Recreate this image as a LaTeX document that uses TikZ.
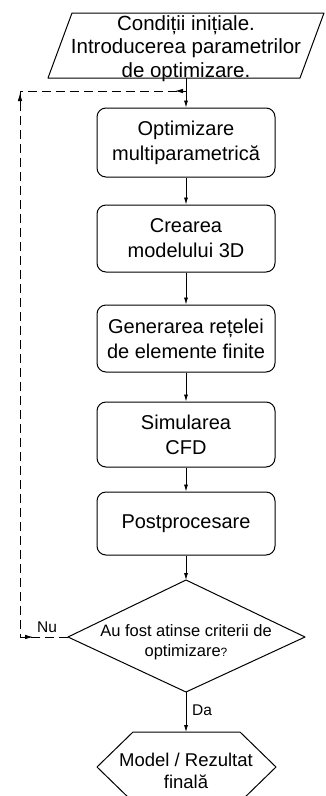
\documentclass[tikz,border=0pt]{standalone}
\usepackage{fontspec}
\setmainfont{Liberation Sans}
\usetikzlibrary{arrows.meta}
\tikzset{
  box/.style={draw, rounded corners=9pt, minimum width=178pt, inner sep=0pt, align=center, font=\fontsize{20}{25}\selectfont, line width=1pt},
  flow/.style={-{Latex[length=7pt,width=4pt]}, line width=0.8pt},
  back/.style={dash pattern=on 9pt off 5pt, line width=0.9pt},
  tipmark/.style={-{Latex[length=8pt,width=4.5pt]}, line width=0.8pt},
  shapeline/.style={line width=1pt, line join=round},
  lbl/.style={inner sep=0pt, font=\fontsize{15.5}{18}\selectfont}
}
\begin{document}
\begin{tikzpicture}[x=1pt,y=-1pt]
\clip (0,0) rectangle (326,796);
% start parallelogram
\coordinate (p1) at (72,13);
\coordinate (p2) at (324,13);
\coordinate (p3) at (300,78);
\coordinate (p4) at (48,78);
\draw[shapeline] (p1)--(p2)--(p3)--(p4)--cycle;
\node[align=center, inner sep=0pt, font=\fontsize{20.5}{23.5}\selectfont] (start) at (186,48.5) {Condiții inițiale.\\Introducerea parametrilor\\de optimizare.};
\coordinate (startbot) at (186,78);
% boxes
\node[box, minimum height=69pt] (b1) at (186,142.5) {Optimizare\\multiparametrică};
\node[box, minimum height=67pt] (b2) at (186,238.5) {Crearea\\modelului 3D};
\node[box, minimum height=67pt] (b3) at (186,338.5) {Generarea rețelei\\de elemente finite};
\node[box, minimum height=65pt] (b4) at (186,434.5) {Simularea\\CFD};
\node[box, minimum height=63pt] (b5) at (186,523.5) {Postprocesare};
% decision diamond
\coordinate (dtop) at (186,580);
\coordinate (dright) at (305,637);
\coordinate (dbot) at (186,692);
\coordinate (dleft) at (68,637);
\draw[shapeline] (dtop)--(dright)--(dbot)--(dleft)--cycle;
\node[align=center, inner sep=0pt, font=\fontsize{16.5}{20}\selectfont] (q) at (186,642.5) {Au fost atinse criterii de\\optimizare{\fontsize{12}{12}\selectfont ?}};
% final hexagon
\coordinate (h1) at (133,732);
\coordinate (h2) at (240,732);
\coordinate (h3) at (276,767);
\coordinate (h4) at (240,802);
\coordinate (h5) at (133,802);
\coordinate (h6) at (97,767);
\draw[shapeline] (h1)--(h2)--(h3)--(h4)--(h5)--(h6)--cycle;
\node[align=center, inner sep=0pt, font=\fontsize{18.5}{22}\selectfont] (fin) at (186,771) {Model / Rezultat\\finală};
\coordinate (htop) at (186,732);
% main flow
\draw[flow] (startbot) -- (b1.north);
\draw[flow] (b1.south) -- (b2.north);
\draw[flow] (b2.south) -- (b3.north);
\draw[flow] (b3.south) -- (b4.north);
\draw[flow] (b4.south) -- (b5.north);
\draw[flow] (b5.south) -- (dtop);
\draw[flow] (dbot) -- (htop);
\node[lbl] (da) at (202,710) {Da};
% feedback loop
\coordinate (c1) at (20,637);
\coordinate (c2) at (20,91);
\coordinate (c3) at (186,91);
\draw[back] (dleft) -- (c1) -- (c2) -- (c3);
\draw[tipmark] ([xshift=2pt]c1) -- ([xshift=13pt]c1);
\draw[tipmark] ([yshift=-14pt]c2) -- ([yshift=-2pt]c2);
\draw[tipmark] ([xshift=-1pt]c3) -- ([xshift=-11pt]c3);
\node[lbl] (nu) at (47,627) {Nu};
\end{tikzpicture}
\end{document}
